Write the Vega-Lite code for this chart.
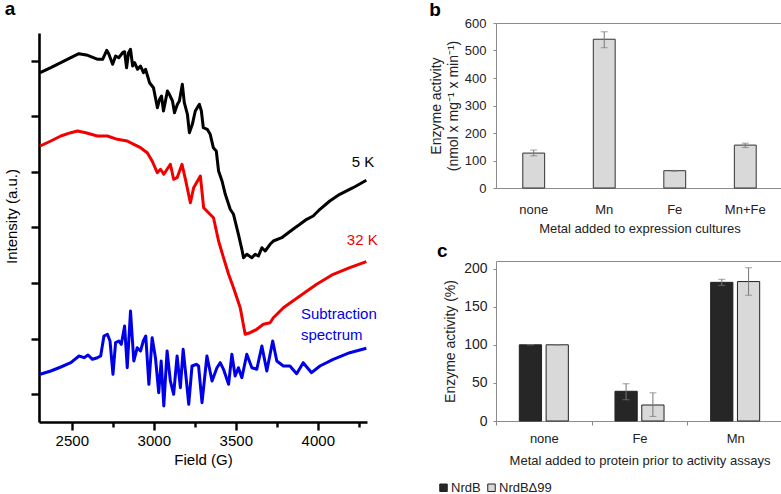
{
  "$schema": "https://vega.github.io/schema/vega-lite/v6.json",
  "padding": {"left": 4, "top": 0, "right": 0, "bottom": 0},
  "config": {"font": "Liberation Sans", "view": {"stroke": null}},
  "spacing": 50,
  "resolve": {"scale": {"color": "independent"}, "legend": {"color": "independent"}},
  "hconcat": [
    {
      "title": {"text": "a", "anchor": "start", "frame": "bounds", "fontSize": 19, "fontWeight": "bold", "color": "black", "offset": 4},
      "width": 328,
      "height": 399,
      "layer": [
        {
          "data": {"values": [
            {"s":"5 K","f":2307,"v":349.3},{"s":"5 K","f":2372,"v":354.3},{"s":"5 K","f":2433,"v":359.3},{"s":"5 K","f":2494,"v":364.3},{"s":"5 K","f":2543,"v":368.3},{"s":"5 K","f":2597,"v":366.7},{"s":"5 K","f":2658,"v":362.7},{"s":"5 K","f":2688,"v":362.7},{"s":"5 K","f":2713,"v":371.7},{"s":"5 K","f":2725,"v":368.3},{"s":"5 K","f":2749,"v":357.7},{"s":"5 K","f":2767,"v":366},{"s":"5 K","f":2786,"v":364.3},{"s":"5 K","f":2810,"v":369.3},{"s":"5 K","f":2822,"v":370.3},{"s":"5 K","f":2834,"v":354.3},{"s":"5 K","f":2846,"v":369.3},{"s":"5 K","f":2858,"v":372.7},{"s":"5 K","f":2871,"v":356},{"s":"5 K","f":2883,"v":359.3},{"s":"5 K","f":2901,"v":352.7},{"s":"5 K","f":2919,"v":356},{"s":"5 K","f":2937,"v":349.3},{"s":"5 K","f":2950,"v":352.7},{"s":"5 K","f":2962,"v":346},{"s":"5 K","f":2974,"v":339.3},{"s":"5 K","f":2998,"v":334.3},{"s":"5 K","f":3022,"v":314.3},{"s":"5 K","f":3035,"v":322.7},{"s":"5 K","f":3047,"v":326},{"s":"5 K","f":3059,"v":311},{"s":"5 K","f":3083,"v":331},{"s":"5 K","f":3095,"v":327.7},{"s":"5 K","f":3114,"v":321},{"s":"5 K","f":3126,"v":309.3},{"s":"5 K","f":3144,"v":317.7},{"s":"5 K","f":3156,"v":321},{"s":"5 K","f":3174,"v":337.7},{"s":"5 K","f":3186,"v":319.3},{"s":"5 K","f":3205,"v":307.7},{"s":"5 K","f":3217,"v":289.3},{"s":"5 K","f":3235,"v":297.7},{"s":"5 K","f":3253,"v":311},{"s":"5 K","f":3278,"v":317.7},{"s":"5 K","f":3290,"v":311},{"s":"5 K","f":3302,"v":294.3},{"s":"5 K","f":3326,"v":292.7},{"s":"5 K","f":3344,"v":287.7},{"s":"5 K","f":3363,"v":274.3},{"s":"5 K","f":3381,"v":271},{"s":"5 K","f":3395,"v":251},{"s":"5 K","f":3416,"v":241},{"s":"5 K","f":3436,"v":227.7},{"s":"5 K","f":3466,"v":212.7},{"s":"5 K","f":3486,"v":207.7},{"s":"5 K","f":3516,"v":187.7},{"s":"5 K","f":3537,"v":172.7},{"s":"5 K","f":3547,"v":164.3},{"s":"5 K","f":3567,"v":167.7},{"s":"5 K","f":3598,"v":164.3},{"s":"5 K","f":3618,"v":167.7},{"s":"5 K","f":3638,"v":166},{"s":"5 K","f":3659,"v":174.3},{"s":"5 K","f":3679,"v":171},{"s":"5 K","f":3709,"v":177.7},{"s":"5 K","f":3729,"v":181},{"s":"5 K","f":3780,"v":184.3},{"s":"5 K","f":3820,"v":189.3},{"s":"5 K","f":3861,"v":194.3},{"s":"5 K","f":3891,"v":197.7},{"s":"5 K","f":3932,"v":202.7},{"s":"5 K","f":3972,"v":206},{"s":"5 K","f":4013,"v":212.7},{"s":"5 K","f":4073,"v":221},{"s":"5 K","f":4134,"v":227.7},{"s":"5 K","f":4215,"v":234.3},{"s":"5 K","f":4296,"v":241.7},
            {"s":"32 K","f":2307,"v":276},{"s":"32 K","f":2372,"v":281},{"s":"32 K","f":2433,"v":286},{"s":"32 K","f":2494,"v":289.3},{"s":"32 K","f":2535,"v":291},{"s":"32 K","f":2585,"v":289.3},{"s":"32 K","f":2656,"v":286},{"s":"32 K","f":2717,"v":286},{"s":"32 K","f":2778,"v":282.7},{"s":"32 K","f":2838,"v":281},{"s":"32 K","f":2878,"v":277.7},{"s":"32 K","f":2919,"v":274.3},{"s":"32 K","f":2960,"v":269.3},{"s":"32 K","f":2990,"v":261},{"s":"32 K","f":3021,"v":249.3},{"s":"32 K","f":3041,"v":252.7},{"s":"32 K","f":3061,"v":247.7},{"s":"32 K","f":3081,"v":252.7},{"s":"32 K","f":3101,"v":257.7},{"s":"32 K","f":3121,"v":242.7},{"s":"32 K","f":3142,"v":244.3},{"s":"32 K","f":3172,"v":257.7},{"s":"32 K","f":3193,"v":242.7},{"s":"32 K","f":3223,"v":219.3},{"s":"32 K","f":3243,"v":234.3},{"s":"32 K","f":3284,"v":246},{"s":"32 K","f":3304,"v":214.3},{"s":"32 K","f":3364,"v":204.3},{"s":"32 K","f":3395,"v":181},{"s":"32 K","f":3425,"v":164.3},{"s":"32 K","f":3456,"v":147.7},{"s":"32 K","f":3486,"v":134.3},{"s":"32 K","f":3527,"v":114.3},{"s":"32 K","f":3557,"v":87.7},{"s":"32 K","f":3587,"v":89.3},{"s":"32 K","f":3628,"v":92.7},{"s":"32 K","f":3668,"v":97.7},{"s":"32 K","f":3709,"v":99.3},{"s":"32 K","f":3729,"v":104.3},{"s":"32 K","f":3790,"v":114.3},{"s":"32 K","f":3891,"v":126},{"s":"32 K","f":3993,"v":137.7},{"s":"32 K","f":4094,"v":147.7},{"s":"32 K","f":4195,"v":154.3},{"s":"32 K","f":4296,"v":160.3},
            {"s":"sub","f":2307,"v":47.7},{"s":"sub","f":2372,"v":51},{"s":"sub","f":2433,"v":55},{"s":"sub","f":2494,"v":59.3},{"s":"sub","f":2544,"v":66},{"s":"sub","f":2575,"v":64.3},{"s":"sub","f":2599,"v":67},{"s":"sub","f":2626,"v":62.7},{"s":"sub","f":2656,"v":64.3},{"s":"sub","f":2676,"v":66},{"s":"sub","f":2696,"v":86},{"s":"sub","f":2717,"v":87.7},{"s":"sub","f":2733,"v":81},{"s":"sub","f":2751,"v":47.7},{"s":"sub","f":2767,"v":79.3},{"s":"sub","f":2787,"v":81},{"s":"sub","f":2802,"v":77.7},{"s":"sub","f":2822,"v":96},{"s":"sub","f":2838,"v":54.3},{"s":"sub","f":2858,"v":111},{"s":"sub","f":2878,"v":61},{"s":"sub","f":2899,"v":74.3},{"s":"sub","f":2919,"v":71},{"s":"sub","f":2936,"v":81},{"s":"sub","f":2951,"v":86},{"s":"sub","f":2970,"v":37.7},{"s":"sub","f":2990,"v":84.3},{"s":"sub","f":3010,"v":64.3},{"s":"sub","f":3030,"v":29.3},{"s":"sub","f":3045,"v":61},{"s":"sub","f":3061,"v":16},{"s":"sub","f":3081,"v":71},{"s":"sub","f":3101,"v":41},{"s":"sub","f":3121,"v":27.7},{"s":"sub","f":3142,"v":66},{"s":"sub","f":3162,"v":34.3},{"s":"sub","f":3179,"v":72.7},{"s":"sub","f":3199,"v":41},{"s":"sub","f":3213,"v":17.7},{"s":"sub","f":3233,"v":56},{"s":"sub","f":3259,"v":57.7},{"s":"sub","f":3273,"v":56},{"s":"sub","f":3294,"v":19.3},{"s":"sub","f":3324,"v":66},{"s":"sub","f":3355,"v":41},{"s":"sub","f":3385,"v":54.3},{"s":"sub","f":3405,"v":59.3},{"s":"sub","f":3425,"v":52.7},{"s":"sub","f":3456,"v":37.7},{"s":"sub","f":3476,"v":67.7},{"s":"sub","f":3496,"v":46},{"s":"sub","f":3516,"v":54.3},{"s":"sub","f":3537,"v":44.3},{"s":"sub","f":3567,"v":67.7},{"s":"sub","f":3598,"v":54.3},{"s":"sub","f":3628,"v":52.7},{"s":"sub","f":3659,"v":76},{"s":"sub","f":3689,"v":51},{"s":"sub","f":3725,"v":81},{"s":"sub","f":3750,"v":61},{"s":"sub","f":3790,"v":56},{"s":"sub","f":3830,"v":56},{"s":"sub","f":3871,"v":48.3},{"s":"sub","f":3911,"v":59.3},{"s":"sub","f":3962,"v":49.3},{"s":"sub","f":4013,"v":56},{"s":"sub","f":4094,"v":62.7},{"s":"sub","f":4195,"v":69.3},{"s":"sub","f":4296,"v":73.7}
          ]},
          "mark": {"type": "line", "strokeWidth": 3, "strokeJoin": "round"},
          "encoding": {
            "x": {"field": "f", "type": "quantitative",
              "scale": {"domain": [2300, 4300], "nice": false, "zero": false},
              "axis": {"values": [2500, 2750, 3000, 3250, 3500, 3750, 4000, 4250], "format": "d",
                "labelExpr": "datum.value % 500 == 0 ? datum.label : ''",
                "tickSize": {"condition": {"test": "datum.value % 500 == 0", "value": 8}, "value": 5},
                "grid": false, "domainColor": "black", "domainWidth": 2.6, "tickColor": "black", "tickWidth": 2.4,
                "labelFontSize": 15, "labelColor": "black", "labelPadding": 3,
                "title": "Field (G)", "titleFontSize": 15, "titleFontWeight": "normal", "titleColor": "black", "titlePadding": 4}},
            "y": {"field": "v", "type": "quantitative",
              "scale": {"domain": [0, 389], "range": [399, 10], "nice": false, "zero": false},
              "axis": {"values": [27.8, 55.6, 83.4, 111.2, 139, 166.8, 194.6, 222.4, 250.2, 278, 305.8, 333.6, 361.4],
                "labels": false,
                "tickSize": {"condition": {"test": "round(datum.value / 27.8) % 2 == 1", "value": 8}, "value": 5},
                "grid": false, "domainColor": "black", "domainWidth": 2.6, "tickColor": "black", "tickWidth": 2.4,
                "title": "Intensity (a.u.)", "titleFontSize": 15, "titleFontWeight": "normal", "titleColor": "black", "titlePadding": 10, "titleY": 193}},
            "color": {"field": "s", "type": "nominal", "scale": {"domain": ["5 K", "32 K", "sub"], "range": ["#000000", "#f20000", "#0000e8"]}, "legend": null}
          }
        },
        {
          "data": {"values": [
            {"s": "5 K", "t": "5 K", "f": 4207, "v": 260.5},
            {"s": "32 K", "t": "32 K", "f": 4177, "v": 182},
            {"s": "sub", "t": "Subtraction", "f": 3897, "v": 108},
            {"s": "sub", "t": "spectrum", "f": 3897, "v": 87}
          ]},
          "mark": {"type": "text", "align": "left", "baseline": "middle", "fontSize": 15},
          "encoding": {
            "x": {"field": "f", "type": "quantitative"},
            "y": {"field": "v", "type": "quantitative"},
            "text": {"field": "t"},
            "color": {"field": "s", "type": "nominal", "legend": null}
          }
        }
      ]
    },
    {
      "spacing": 5,
      "align": "none",
      "resolve": {"scale": {"color": "independent"}},
      "vconcat": [
        {
          "title": {"text": "b", "anchor": "start", "frame": "bounds", "fontSize": 19, "fontWeight": "bold", "color": "black", "offset": 2, "dy": 5},
          "width": 287,
          "height": 165,
          "view": {"stroke": "#8c8c8c"},
          "data": {"values": [
            {"metal": "none", "act": 127, "lo": 117, "hi": 138},
            {"metal": "Mn", "act": 541, "lo": 510, "hi": 568},
            {"metal": "Fe", "act": 63, "lo": 61, "hi": 64},
            {"metal": "Mn+Fe", "act": 156, "lo": 147, "hi": 163}
          ]},
          "encoding": {
            "x": {"field": "metal", "type": "nominal", "sort": null,
              "scale": {"paddingInner": 0.69, "paddingOuter": 0.38},
              "axis": {"labelAngle": 0, "ticks": false, "domain": false, "labelFontSize": 13, "labelColor": "#222", "labelPadding": 15,
                "title": "Metal added to expression cultures", "titleFontSize": 13, "titleFontWeight": "normal", "titleColor": "#222", "titlePadding": 6}}
          },
          "layer": [
            {"mark": {"type": "bar", "color": "#d9d9d9", "stroke": "#333333", "strokeWidth": 1},
             "encoding": {"y": {"field": "act", "type": "quantitative",
               "scale": {"domain": [0, 600], "nice": false},
               "axis": {"values": [0, 100, 200, 300, 400, 500, 600], "grid": false, "domain": false, "tickSize": 3, "tickColor": "#888",
                 "labelFontSize": 13, "labelColor": "#222", "labelPadding": 7,
                 "title": ["Enzyme activity", "(nmol x mg⁻¹ x min⁻¹)"], "titleFontSize": 14, "titleLineHeight": 17, "titleFontWeight": "normal", "titleColor": "#222", "titlePadding": 4}}}},
            {"mark": {"type": "rule", "color": "#777777", "strokeWidth": 1},
             "encoding": {"y": {"field": "lo", "type": "quantitative",
               "axis": {"values": [0, 100, 200, 300, 400, 500, 600], "grid": false, "domain": false, "tickSize": 3, "tickColor": "#888",
                 "labelFontSize": 13, "labelColor": "#222", "labelPadding": 7,
                 "title": ["Enzyme activity", "(nmol x mg⁻¹ x min⁻¹)"], "titleFontSize": 14, "titleLineHeight": 17, "titleFontWeight": "normal", "titleColor": "#222", "titlePadding": 4}},
               "y2": {"field": "hi"}}},
            {"mark": {"type": "tick", "color": "#777777", "size": 7, "thickness": 1},
             "encoding": {"y": {"field": "lo", "type": "quantitative",
               "axis": {"values": [0, 100, 200, 300, 400, 500, 600], "grid": false, "domain": false, "tickSize": 3, "tickColor": "#888",
                 "labelFontSize": 13, "labelColor": "#222", "labelPadding": 7,
                 "title": ["Enzyme activity", "(nmol x mg⁻¹ x min⁻¹)"], "titleFontSize": 14, "titleLineHeight": 17, "titleFontWeight": "normal", "titleColor": "#222", "titlePadding": 4}}}},
            {"mark": {"type": "tick", "color": "#777777", "size": 7, "thickness": 1},
             "encoding": {"y": {"field": "hi", "type": "quantitative",
               "axis": {"values": [0, 100, 200, 300, 400, 500, 600], "grid": false, "domain": false, "tickSize": 3, "tickColor": "#888",
                 "labelFontSize": 13, "labelColor": "#222", "labelPadding": 7,
                 "title": ["Enzyme activity", "(nmol x mg⁻¹ x min⁻¹)"], "titleFontSize": 14, "titleLineHeight": 17, "titleFontWeight": "normal", "titleColor": "#222", "titlePadding": 4}}}}
          ]
        },
        {
          "title": {"text": "c", "anchor": "start", "frame": "bounds", "fontSize": 19, "fontWeight": "bold", "color": "black", "offset": 0},
          "width": 287,
          "height": 160,
          "view": {"stroke": "#8c8c8c"},
          "data": {"values": [
            {"metal": "none", "p": "NrdB", "act": 100, "lo": 100, "hi": 100},
            {"metal": "none", "p": "NrdBΔ99", "act": 100, "lo": 100, "hi": 100},
            {"metal": "Fe", "p": "NrdB", "act": 39, "lo": 28, "hi": 49},
            {"metal": "Fe", "p": "NrdBΔ99", "act": 21, "lo": 6, "hi": 37},
            {"metal": "Mn", "p": "NrdB", "act": 182, "lo": 178, "hi": 186},
            {"metal": "Mn", "p": "NrdBΔ99", "act": 183, "lo": 165, "hi": 201}
          ]},
          "encoding": {
            "x": {"field": "metal", "type": "nominal", "sort": null,
              "scale": {"paddingInner": 0, "paddingOuter": 0},
              "axis": {"labelAngle": 0, "tickBand": "extent", "tickSize": 4, "tickColor": "#888", "domain": false,
                "labelFontSize": 13, "labelColor": "#222", "labelPadding": 7,
                "title": "Metal added to protein prior to activity assays", "titleFontSize": 13, "titleFontWeight": "normal", "titleColor": "#222", "titlePadding": 9}},
            "xOffset": {"field": "p", "type": "nominal", "scale": {"domain": ["NrdB", "NrdBΔ99"], "paddingInner": 0.17, "paddingOuter": 0.87}}
          },
          "layer": [
            {"mark": {"type": "bar", "stroke": "#222222", "strokeWidth": 1},
             "encoding": {
               "y": {"field": "act", "type": "quantitative",
                 "scale": {"domain": [0, 210], "nice": false},
                 "axis": {"values": [0, 50, 100, 150, 200], "grid": false, "domain": false, "tickSize": 3, "tickColor": "#888",
                   "labelFontSize": 14, "labelColor": "#222", "labelPadding": 6,
                   "title": "Enzyme activity (%)", "titleFontSize": 14, "titleFontWeight": "normal", "titleColor": "#222", "titlePadding": 6}},
               "color": {"field": "p", "type": "nominal",
                 "scale": {"domain": ["NrdB", "NrdBΔ99"], "range": ["#262626", "#d9d9d9"]},
                 "legend": {"orient": "none", "legendX": -59, "legendY": 220, "direction": "horizontal", "title": null,
                   "symbolType": "square", "symbolSize": 56, "symbolStrokeColor": "#222", "symbolStrokeWidth": 1,
                   "labelFontSize": 13, "labelColor": "#222", "labelOffset": 1, "columnPadding": 4, "padding": 0}}}},
            {"mark": {"type": "rule", "color": "#777777", "strokeWidth": 1},
             "encoding": {"y": {"field": "lo", "type": "quantitative",
               "axis": {"values": [0, 50, 100, 150, 200], "grid": false, "domain": false, "tickSize": 3, "tickColor": "#888",
                   "labelFontSize": 14, "labelColor": "#222", "labelPadding": 6,
                   "title": "Enzyme activity (%)", "titleFontSize": 14, "titleFontWeight": "normal", "titleColor": "#222", "titlePadding": 6}},
               "y2": {"field": "hi"}}},
            {"mark": {"type": "tick", "color": "#777777", "size": 7, "thickness": 1},
             "encoding": {"y": {"field": "lo", "type": "quantitative",
               "axis": {"values": [0, 50, 100, 150, 200], "grid": false, "domain": false, "tickSize": 3, "tickColor": "#888",
                   "labelFontSize": 14, "labelColor": "#222", "labelPadding": 6,
                   "title": "Enzyme activity (%)", "titleFontSize": 14, "titleFontWeight": "normal", "titleColor": "#222", "titlePadding": 6}}}},
            {"mark": {"type": "tick", "color": "#777777", "size": 7, "thickness": 1},
             "encoding": {"y": {"field": "hi", "type": "quantitative",
               "axis": {"values": [0, 50, 100, 150, 200], "grid": false, "domain": false, "tickSize": 3, "tickColor": "#888",
                   "labelFontSize": 14, "labelColor": "#222", "labelPadding": 6,
                   "title": "Enzyme activity (%)", "titleFontSize": 14, "titleFontWeight": "normal", "titleColor": "#222", "titlePadding": 6}}}}
          ]
        }
      ]
    }
  ]
}
